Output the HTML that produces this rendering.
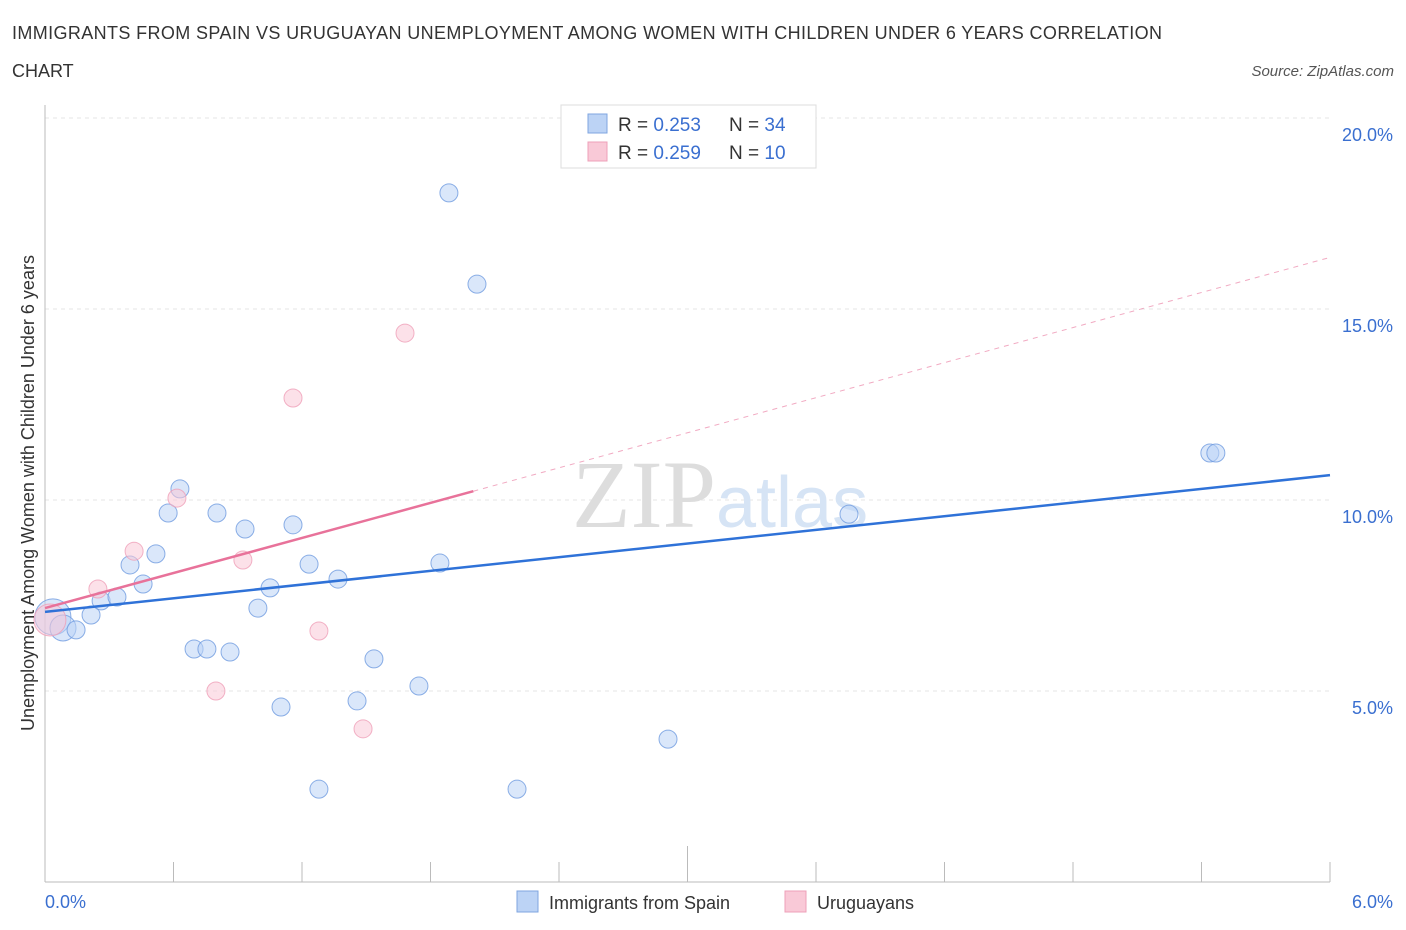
<!DOCTYPE html>
<html><head><meta charset="utf-8"><style>
body{margin:0;background:#fff;font-family:"Liberation Sans",sans-serif}
svg{display:block}
</style></head><body>
<svg id="chart" width="1406" height="930" xmlns="http://www.w3.org/2000/svg">
<text x="12" y="39" font-size="18" fill="#333" textLength="1150">IMMIGRANTS FROM SPAIN VS URUGUAYAN UNEMPLOYMENT AMONG WOMEN WITH CHILDREN UNDER 6 YEARS CORRELATION</text>
<text x="12" y="77" font-size="18" fill="#333">CHART</text>
<text x="1394" y="76" font-size="15" fill="#555" font-style="italic" text-anchor="end">Source: ZipAtlas.com</text>
<g id="grid"></g>
<text x="716" y="527" font-size="96" fill="#ddd" text-anchor="end" font-family="Liberation Serif,serif">ZIP</text>
<text x="716" y="527" font-size="72" fill="#d6e4f5">atlas</text>
<g id="lines"></g>
<g id="points"></g>
<text transform="translate(34,493) rotate(-90)" font-size="18" fill="#333" text-anchor="middle">Unemployment Among Women with Children Under 6 years</text>
<text x="45" y="908" font-size="18" fill="#3a6fd0">0.0%</text>
<text x="1393" y="908" font-size="18" fill="#3a6fd0" text-anchor="end">6.0%</text>
<g>
<rect x="561" y="105" width="255" height="63" fill="#fff" stroke="#ddd"/>
<rect x="588" y="114" width="19" height="19" fill="#bcd3f5" stroke="#7fa6e0"/>
<rect x="588" y="142" width="19" height="19" fill="#f9c9d7" stroke="#eea0b8"/>
<text x="618" y="131" font-size="19" fill="#333">R = <tspan fill="#3a6fd0">0.253</tspan></text>
<text x="729" y="131" font-size="19" fill="#333">N = <tspan fill="#3a6fd0">34</tspan></text>
<text x="618" y="159" font-size="19" fill="#333">R = <tspan fill="#3a6fd0">0.259</tspan></text>
<text x="729" y="159" font-size="19" fill="#333">N = <tspan fill="#3a6fd0">10</tspan></text>
</g>
<g>
<rect x="517" y="891" width="21" height="21" fill="#bcd3f5" stroke="#7fa6e0"/>
<text x="549" y="909" font-size="18" fill="#333">Immigrants from Spain</text>
<rect x="785" y="891" width="21" height="21" fill="#f9c9d7" stroke="#eea0b8"/>
<text x="817" y="909" font-size="18" fill="#333">Uruguayans</text>
</g>
</svg>
<script>
const yTicks=[5,10,15,20];
const xTickCount=10;
const spainX=[0.037,0.084,0.145,0.215,0.262,0.336,0.397,0.458,0.518,0.575,0.630,0.696,0.756,0.803,0.864,0.934,0.994,1.051,1.102,1.158,1.233,1.279,1.368,1.457,1.536,1.746,1.844,1.886,2.017,2.204,2.909,3.754,5.439,5.467];
const spainY=[6.94,6.65,6.60,6.99,7.36,7.46,8.30,7.80,8.59,9.66,10.29,6.10,6.10,9.66,6.02,9.24,7.17,7.70,4.58,9.35,8.32,2.43,7.93,4.74,5.84,5.13,8.35,18.04,15.65,2.43,3.74,9.63,11.23,11.23];
const uruX=[0.023,0.247,0.416,0.616,0.798,0.924,1.158,1.279,1.485,1.681];
const uruY=[6.86,7.67,8.66,10.05,5.00,8.43,12.67,6.57,4.01,14.37];
const spainTrend=[7.07,10.65];
const uruTrend=[7.17,16.35];
const uruSolidEnd=2.0;
const X=v=>45+v/6*1285, Y=v=>882-v/20*764;
const NS="http://www.w3.org/2000/svg";
function mk(t,a,p){const e=document.createElementNS(NS,t);for(const k in a)e.setAttribute(k,a[k]);p.appendChild(e);return e;}
const grid=document.getElementById('grid');
yTicks.forEach(t=>{
 const l=mk('line',{x1:45,x2:1330,y1:Y(t),y2:Y(t),stroke:'#e6e6e6','stroke-dasharray':'4,4'},grid);
 
 
 const tx=mk('text',{x:1393,y:Y(t)+23,'font-size':18,fill:'#3a6fd0','text-anchor':'end'},grid);
 tx.textContent=t.toFixed(1)+'%';
 
 
});
const ax=mk('line',{x1:45,x2:45,y1:105,y2:882,stroke:'#bbb'},grid);


const bx=mk('line',{x1:45,x2:1330,y1:882,y2:882,stroke:'#bbb'},grid);


for(let i=1;i<=xTickCount;i++){
 const xv=6*i/xTickCount;
 const t=mk('line',{x1:X(xv),x2:X(xv),y1:i==5?846:862,y2:882,stroke:'#bbb'},grid);
 
 
}
const lines=document.getElementById('lines');
const uEnd=uruTrend[0]+(uruTrend[1]-uruTrend[0])*uruSolidEnd/6;
const ud=mk('line',{x1:X(uruSolidEnd),y1:Y(uEnd),x2:X(6),y2:Y(uruTrend[1]),stroke:'#e8729a','stroke-width':1,'stroke-dasharray':'5,5',opacity:0.6},lines);


const pts=document.getElementById('points');
function dots(xs,ys,fill,stroke,name){
 xs.forEach((x,i)=>{
  const r=i==0?(name=='spain-point'?18:16):(name=='spain-point'&&i==1?13:9);
  const c=mk('circle',{cx:X(x),cy:Y(ys[i]),r:r,fill:fill,'fill-opacity':0.55,stroke:stroke,'stroke-width':1,'stroke-opacity':0.8},pts);
  
  
 });
}
dots(spainX,spainY,'#bcd3f5','#6f9be0','spain-point');
dots(uruX,uruY,'#f9c9d7','#ef9fb8','uruguayan-point');
const us=mk('line',{x1:X(0),y1:Y(uruTrend[0]),x2:X(uruSolidEnd),y2:Y(uEnd),stroke:'#e8729a','stroke-width':2.5},pts);


const bl=mk('line',{x1:X(0),y1:Y(spainTrend[0]),x2:X(6),y2:Y(spainTrend[1]),stroke:'#2f72d8','stroke-width':2.5},pts);


</script>
</body></html>
